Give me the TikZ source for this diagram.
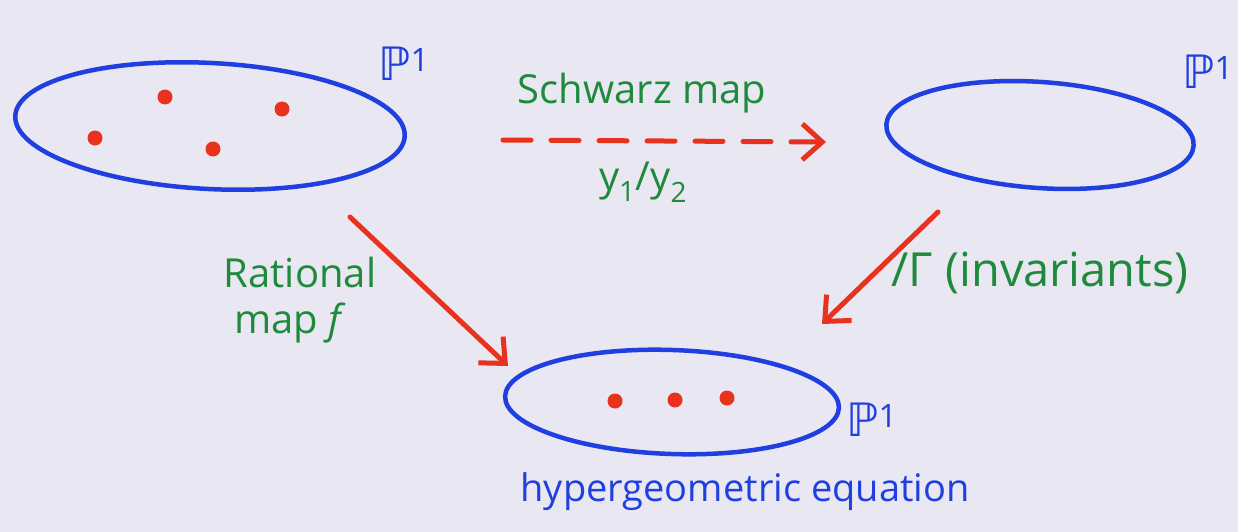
\documentclass[tikz,border=0pt]{standalone}
\usepackage{fontspec}
\setmainfont{Open Sans}
\newfontfamily\dejavu{DejaVu Sans}
\usetikzlibrary{arrows.meta,shapes.geometric}
\definecolor{paper}{HTML}{E9E7F1}
\definecolor{penblue}{HTML}{1F3FE0}
\definecolor{pengreen}{HTML}{1E8A3C}
\definecolor{penred}{HTML}{E8321E}
\newcommand{\projline}{{\dejavu ℙ}\textsuperscript{1}}
\tikzset{
  sphere/.style={draw=penblue, line width=4.5pt, ellipse, inner sep=0pt},
  puncture/.style={circle, fill=penred, inner sep=0pt, minimum size=15pt},
  redarrow/.style={draw=penred, line width=5pt, line cap=round,
    -{Straight Barb[length=20pt,width=36pt,line width=5pt]}},
  greenlabel/.style={text=pengreen, font=\fontsize{40}{46}\selectfont, align=center},
  bluelabel/.style={text=penblue, font=\fontsize{38}{44}\selectfont},
  plabel/.style={text=penblue, font=\fontsize{46}{50}\selectfont}
}
\begin{document}
\begin{tikzpicture}[x=1pt,y=-1pt]
\path[fill=paper] (0,0) rectangle (1238,532);
\useasboundingbox (0,0) rectangle (1238,532);
% spheres
\node[sphere, minimum width=390pt, minimum height=126pt, rotate=-3] (A) at (210,126) {};
\node[sphere, minimum width=308pt, minimum height=106pt, rotate=-4] (B) at (1040,135) {};
\node[sphere, minimum width=334pt, minimum height=104pt, rotate=-2] (C) at (672,402) {};
% punctures
\node[puncture] (a1) at (165,97) {};
\node[puncture] (a2) at (282,109) {};
\node[puncture] (a3) at (95,138) {};
\node[puncture] (a4) at (213,149) {};
\node[puncture] (c1) at (615,401) {};
\node[puncture] (c2) at (675,400) {};
\node[puncture] (c3) at (727,398) {};
% P^1 labels
\node[plabel] (pA) at (404,64) {\projline};
\node[plabel] (pB) at (1208,72) {\projline};
\node[plabel] (pC) at (872,420) {\projline};
% arrow endpoints
\coordinate (s1) at (503,140);
\coordinate (s2) at (826,142);
\coordinate (r1) at (350,217);
\coordinate (r2) at (508,366);
\coordinate (g1) at (938,212);
\coordinate (g2) at (822,324);
% arrows
\draw[redarrow, dash pattern=on 28pt off 20pt] (s1) -- (s2);
\draw[redarrow] (r1) -- (r2);
\draw[redarrow] (g1) -- (g2);
% labels
\node[greenlabel] (schwarz) at (642,93) {Schwarz map};
\node[greenlabel] (ratio) at (643,182) {y\textsubscript{1}/y\textsubscript{2}};
\node[greenlabel, align=left] (rational) at (300,300) {Rational\\\ map \textit{f}};
\node[greenlabel, anchor=west, font=\fontsize{47}{50}\selectfont] (gamma) at (888,273) {/Γ (invariants)};
\node[bluelabel] (hyper) at (745,492) {hypergeometric equation};
\end{tikzpicture}
\end{document}
